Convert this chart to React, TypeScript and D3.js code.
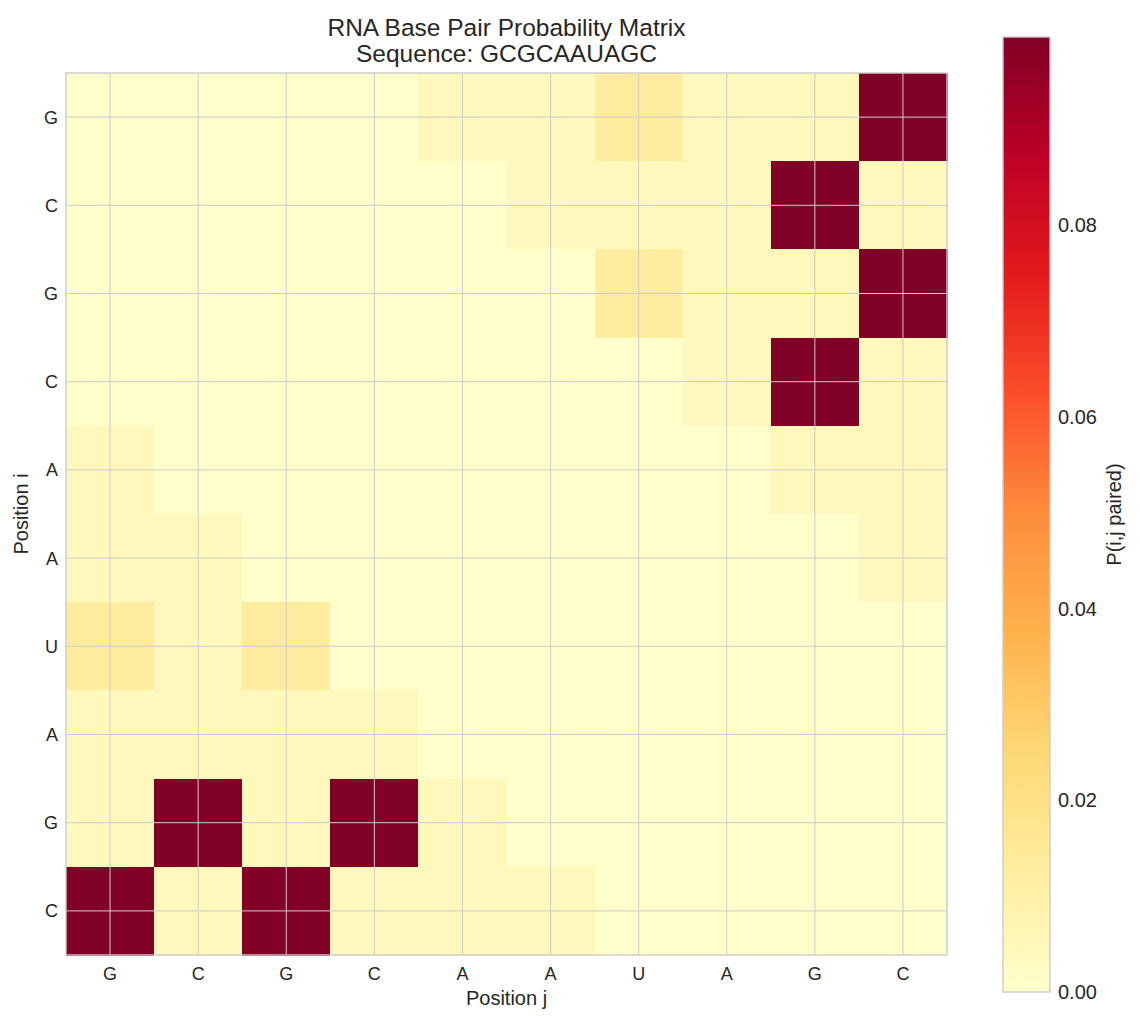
import * as d3 from "d3";

const sequence = ["G", "C", "G", "C", "A", "A", "U", "A", "G", "C"];

// pair probabilities, rows i (top to bottom), columns j
const D = 0.0996;
const pairProb = [
  [0, 0, 0, 0, 0.0045, 0.0045, 0.013, 0.0045, 0.0045, D],
  [0, 0, 0, 0, 0, 0.0045, 0.0045, 0.0045, D, 0.0045],
  [0, 0, 0, 0, 0, 0, 0.013, 0.0045, 0.0045, D],
  [0, 0, 0, 0, 0, 0, 0, 0.0045, D, 0.0045],
  [0.0045, 0, 0, 0, 0, 0, 0, 0, 0.0045, 0.0045],
  [0.0045, 0.0045, 0, 0, 0, 0, 0, 0, 0, 0.0045],
  [0.013, 0.0045, 0.013, 0, 0, 0, 0, 0, 0, 0],
  [0.0045, 0.0045, 0.0045, 0.0045, 0, 0, 0, 0, 0, 0],
  [0.0045, D, 0.0045, D, 0.0045, 0, 0, 0, 0, 0],
  [D, 0.0045, D, 0.0045, 0.0045, 0.0045, 0, 0, 0, 0],
];

const colorbarTicks = [0, 0.02, 0.04, 0.06, 0.08];

const width = 1140;
const height = 1024;
const plot = { left: 66, right: 947, top: 73, bottom: 955 };
const bar = { left: 1003, right: 1050, top: 37, bottom: 992 };
const font = "'Liberation Sans', Arial, sans-serif";
const ink = "#262626";
const gridColor = "#cccccc";

export default function App() {
  const n = sequence.length;
  const vmax = d3.max(pairProb.flat()) ?? 1;
  const palette = d3.schemeYlOrRd[9];
  const color = d3
    .scaleLinear<string>()
    .domain(palette.map((_, k) => (k / (palette.length - 1)) * vmax))
    .range(palette)
    .interpolate(d3.interpolateRgb)
    .clamp(true);

  const x = d3.scaleBand<number>().domain(d3.range(n)).range([plot.left, plot.right]);
  const y = d3.scaleBand<number>().domain(d3.range(n)).range([plot.top, plot.bottom]);
  const cw = x.bandwidth();
  const ch = y.bandwidth();
  const barScale = d3.scaleLinear().domain([0, vmax]).range([bar.bottom, bar.top]);

  return (
    <svg
      width={width}
      height={height}
      viewBox={`0 0 ${width} ${height}`}
      style={{ position: "absolute", left: 0, top: 0, background: "#fff" }}
      fontFamily={font}
    >
      <defs>
        <linearGradient id="cbar" x1="0" y1="1" x2="0" y2="0">
          {palette.map((c, k) => (
            <stop key={k} offset={k / (palette.length - 1)} stopColor={c} />
          ))}
        </linearGradient>
      </defs>

      <text x={(plot.left + plot.right) / 2} y={36} textAnchor="middle" fontSize={24.5} fill={ink}>
        RNA Base Pair Probability Matrix
      </text>
      <text x={(plot.left + plot.right) / 2} y={62} textAnchor="middle" fontSize={24.5} fill={ink}>
        Sequence: {sequence.join("")}
      </text>

      {pairProb.map((row, i) =>
        row.map((v, j) => (
          <rect
            key={`${i}-${j}`}
            x={x(j)}
            y={y(i)}
            width={cw + 0.5}
            height={ch + 0.5}
            fill={color(v)}
            shapeRendering="crispEdges"
          />
        ))
      )}

      {d3.range(n).map((k) => (
        <g key={`grid-${k}`} stroke={gridColor} strokeWidth={1}>
          <line x1={(x(k) ?? 0) + cw / 2} x2={(x(k) ?? 0) + cw / 2} y1={plot.top} y2={plot.bottom} />
          <line x1={plot.left} x2={plot.right} y1={(y(k) ?? 0) + ch / 2} y2={(y(k) ?? 0) + ch / 2} />
        </g>
      ))}

      <rect
        x={plot.left}
        y={plot.top}
        width={plot.right - plot.left}
        height={plot.bottom - plot.top}
        fill="none"
        stroke={gridColor}
        strokeWidth={1.4}
      />

      {sequence.map((base, k) => (
        <text key={`xt-${k}`} x={(x(k) ?? 0) + cw / 2} y={980} textAnchor="middle" fontSize={18} fill={ink}>
          {base}
        </text>
      ))}
      {sequence.map((base, k) => (
        <text
          key={`yt-${k}`}
          x={58}
          y={(y(k) ?? 0) + ch / 2}
          dy="0.36em"
          textAnchor="end"
          fontSize={18}
          fill={ink}
        >
          {base}
        </text>
      ))}

      <text x={(plot.left + plot.right) / 2} y={1005} textAnchor="middle" fontSize={20} fill={ink}>
        Position j
      </text>
      <text
        transform={`translate(28, ${(plot.top + plot.bottom) / 2}) rotate(-90)`}
        textAnchor="middle"
        fontSize={20}
        fill={ink}
      >
        Position i
      </text>

      <rect
        x={bar.left}
        y={bar.top}
        width={bar.right - bar.left}
        height={bar.bottom - bar.top}
        fill="url(#cbar)"
        stroke={gridColor}
        strokeWidth={1.4}
      />
      {colorbarTicks.map((t) => (
        <text key={`ct-${t}`} x={1058} y={barScale(t)} dy="0.36em" fontSize={20} fill={ink}>
          {t.toFixed(2)}
        </text>
      ))}
      <text
        transform={`translate(1121, ${(bar.top + bar.bottom) / 2}) rotate(-90)`}
        textAnchor="middle"
        fontSize={20}
        fill={ink}
      >
        P(i,j paired)
      </text>
    </svg>
  );
}
